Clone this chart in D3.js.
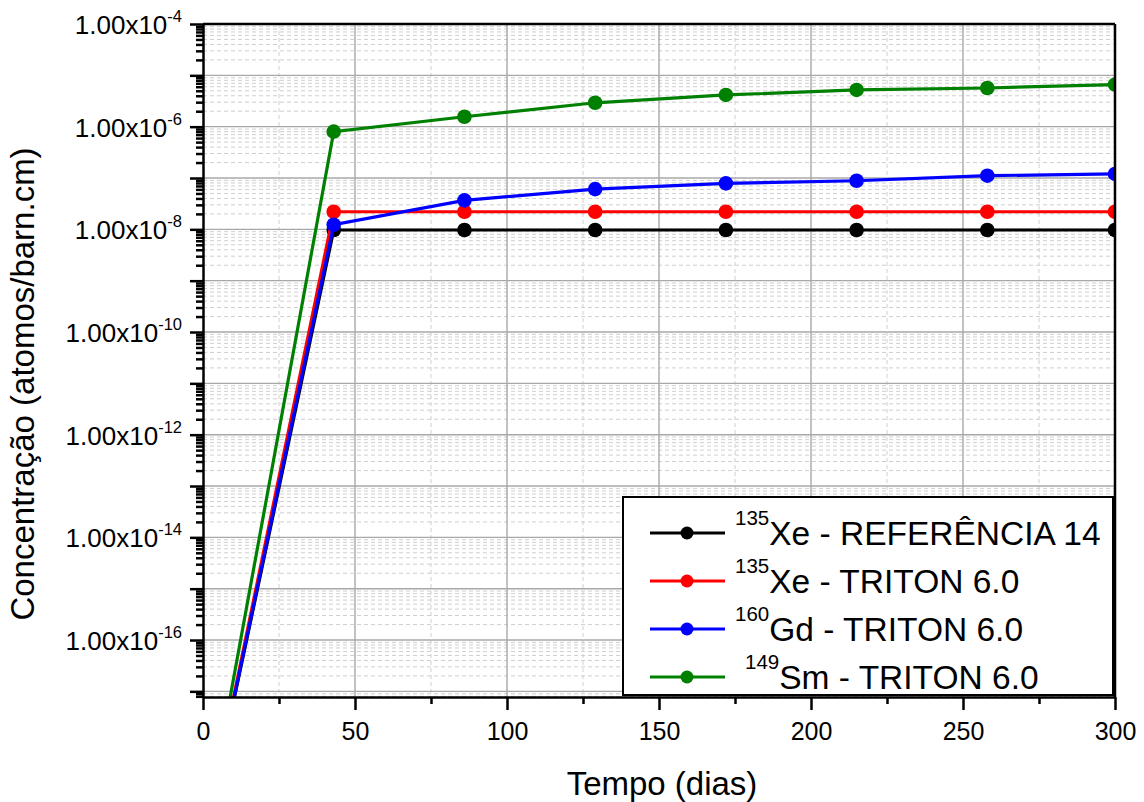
<!DOCTYPE html>
<html>
<head>
<meta charset="utf-8">
<script src="https://cdn.jsdelivr.net/npm/d3@7"></script>
<style>
    body { margin: 0; background: #fff; }
    svg { font-family: Arial, "Liberation Sans", sans-serif; }
    .grid-major line { stroke: #a8a8a8; stroke-width: 1.4; }
    .grid-minor line { stroke: #cfcfcf; stroke-width: 1; stroke-dasharray: 4,3; }
    .axis path, .axis line { stroke: #000; stroke-width: 2.5; }
</style>
</head>
<body>
<svg id="chart" width="1144" height="802"></svg>
<script>

// Tempo (dias)
var days = [0, 43, 86, 129, 172, 215, 258, 300];

// Concentracao (atomos/barn.cm)
var xe135Ref    = [1e-20, 9.7e-9, 9.7e-9, 9.7e-9, 9.7e-9, 9.7e-9, 9.7e-9, 9.7e-9];
var xe135Triton = [1e-20, 2.2e-8, 2.2e-8, 2.2e-8, 2.2e-8, 2.2e-8, 2.2e-8, 2.2e-8];
var gd160Triton = [1e-20, 1.23e-8, 3.66e-8, 6.08e-8, 7.85e-8, 8.85e-8, 1.11e-7, 1.2e-7];
var sm149Triton = [1e-20, 8.0e-7, 1.56e-6, 2.92e-6, 4.15e-6, 5.19e-6, 5.67e-6, 6.6e-6];

var seriesNames = [
    {sup: "135", text: "Xe - REFERÊNCIA 14", pre: ""},
    {sup: "135", text: "Xe - TRITON 6.0", pre: ""},
    {sup: "160", text: "Gd - TRITON 6.0", pre: ""},
    {sup: "149", text: "Sm - TRITON 6.0", pre: " "}
];
var seriesColors = ["#000000", "#ff0000", "#0000ff", "#008000"];
var seriesValues = [xe135Ref, xe135Triton, gd160Triton, sm149Triton];

var xTicks = [0, 50, 100, 150, 200, 250, 300];
var xMinorTicks = [25, 75, 125, 175, 225, 275];
var yLabelExps = [-4, -6, -8, -10, -12, -14, -16];

var chart = {
    left: 203,
    right: 1115,
    top: 24,
    bottom: 697,
};

var svg = d3.select("#chart");

var x = d3.scaleLinear().domain([0, 300]).range([chart.left, chart.right]);
var y = d3.scaleLog().domain([Math.pow(10, -17.11), 1e-4]).range([chart.bottom, chart.top]);

// decades and 2..9 sub ticks inside the domain
var yMajor = d3.range(-17, -3).map((e) => Math.pow(10, e));
var yMinor = [];
d3.range(-18, -4).forEach(function(e) {
    for (let k = 2; k <= 9; k++) {
        let v = k * Math.pow(10, e);
        if (v >= y.domain()[0] && v <= y.domain()[1]) yMinor.push(v);
    }
});

var plotW = chart.right - chart.left;
var plotH = chart.bottom - chart.top;

// Grid
svg.append("g").attr("class", "grid-minor")
    .selectAll("line.h").data(yMinor).enter().append("line")
        .attr("x1", chart.left).attr("x2", chart.right)
        .attr("y1", (d) => y(d)).attr("y2", (d) => y(d));
svg.append("g").attr("class", "grid-minor")
    .selectAll("line.v").data(xMinorTicks).enter().append("line")
        .attr("y1", chart.top).attr("y2", chart.bottom)
        .attr("x1", (d) => x(d)).attr("x2", (d) => x(d));
svg.append("g").attr("class", "grid-major")
    .selectAll("line").data(yMajor).enter().append("line")
        .attr("x1", chart.left).attr("x2", chart.right)
        .attr("y1", (d) => y(d)).attr("y2", (d) => y(d));
svg.append("g").attr("class", "grid-major")
    .selectAll("line").data(xTicks.slice(1, -1)).enter().append("line")
        .attr("y1", chart.top).attr("y2", chart.bottom)
        .attr("x1", (d) => x(d)).attr("x2", (d) => x(d));

// Data
svg.append("defs").append("clipPath")
    .attr("id", "plot-clip")
    .append("rect")
        .attr("x", chart.left).attr("y", chart.top)
        .attr("width", plotW).attr("height", plotH);

var line = d3.line()
    .x((d) => x(d[0]))
    .y((d) => y(d[1]));

var dataLayer = svg.append("g").attr("clip-path", "url(#plot-clip)");

seriesValues.forEach(function(vals, i) {
    let pts = days.map((t, j) => [t, vals[j]]);
    let g = dataLayer.append("g");
    g.append("path")
        .datum(pts)
        .attr("fill", "none")
        .attr("stroke", seriesColors[i])
        .attr("stroke-width", 3.2)
        .attr("d", line);
    g.selectAll("circle")
        .data(pts.slice(1))
        .enter().append("circle")
            .attr("cx", (d) => x(d[0]))
            .attr("cy", (d) => y(d[1]))
            .attr("r", 7.3)
            .attr("fill", seriesColors[i]);
});

// Axes
svg.append("g").attr("class", "axis")
    .attr("transform", "translate(0," + chart.bottom + ")")
    .call(d3.axisBottom(x).tickValues(xMinorTicks).tickSize(7).tickFormat(""))
    .call((g) => g.select(".domain").remove());
svg.append("g").attr("class", "axis x-axis")
    .attr("transform", "translate(0," + chart.bottom + ")")
    .call(d3.axisBottom(x).tickValues(xTicks).tickSize(13).tickSizeOuter(0))
    .call(function(g) {
        g.selectAll("text")
            .attr("y", 25)
            .attr("dy", "0.71em")
            .attr("font-size", 25)
            .attr("font-family", "Arial, 'Liberation Sans', sans-serif")
            .attr("fill", "#000");
    });

svg.append("g").attr("class", "axis")
    .attr("transform", "translate(" + chart.left + ",0)")
    .call(d3.axisLeft(y).tickValues(yMinor).tickSize(7).tickFormat(""))
    .call((g) => g.select(".domain").remove());
svg.append("g").attr("class", "axis")
    .attr("transform", "translate(" + chart.left + ",0)")
    .call(d3.axisLeft(y).tickValues(yMajor).tickSize(13).tickSizeOuter(0).tickFormat(""));

// frame top / right
svg.append("line")
    .attr("x1", chart.left).attr("x2", chart.right)
    .attr("y1", chart.top).attr("y2", chart.top)
    .attr("stroke", "#000").attr("stroke-width", 2.5);
svg.append("line")
    .attr("x1", chart.right).attr("x2", chart.right)
    .attr("y1", chart.top).attr("y2", chart.bottom)
    .attr("stroke", "#000").attr("stroke-width", 2.5);

// y tick labels 1.00x10^n
var yLab = svg.append("g").selectAll("text")
    .data(yLabelExps)
    .enter().append("text")
        .attr("x", 182)
        .attr("y", (d) => y(Math.pow(10, d)) + 10)
        .attr("text-anchor", "end")
        .attr("font-size", 26)
        .attr("fill", "#000");
yLab.append("tspan").text("1.00x10");
yLab.append("tspan")
    .attr("font-size", 16.5)
    .attr("dy", -12)
    .text((d) => String(d));

// axis titles
svg.append("text")
    .attr("x", (chart.left + chart.right) / 2 + 3)
    .attr("y", 795)
    .attr("text-anchor", "middle")
    .attr("font-size", 33)
    .text("Tempo (dias)");

svg.append("text")
    .attr("transform", "translate(34," + 384 + ") rotate(-90)")
    .attr("text-anchor", "middle")
    .attr("font-size", 33)
    .text("Concentração (atomos/barn.cm)");

// Legend
var legend = svg.append("g").attr("transform", "translate(623,497)");
legend.append("rect")
    .attr("width", 490)
    .attr("height", 198)
    .attr("fill", "#fff")
    .attr("stroke", "#000")
    .attr("stroke-width", 2);

var rows = legend.selectAll("g.row")
    .data(seriesNames)
    .enter().append("g")
        .attr("class", "row")
        .attr("transform", (d, i) => "translate(0," + (36 + i * 48) + ")");
rows.append("line")
    .attr("x1", 27).attr("x2", 102)
    .attr("stroke", (d, i) => seriesColors[i])
    .attr("stroke-width", 3);
rows.append("circle")
    .attr("cx", 64)
    .attr("r", 6.5)
    .attr("fill", (d, i) => seriesColors[i]);
var rowText = rows.append("text")
    .attr("x", (d) => d.pre ? 122 : 112)
    .attr("y", 12)
    .attr("font-size", 33.5)
    .attr("fill", "#000");
rowText.append("tspan")
    .attr("font-size", 20.5)
    .attr("dy", -20)
    .text((d) => d.sup);
rowText.append("tspan")
    .attr("dy", 20)
    .text((d) => d.text);

</script>
</body>
</html>
